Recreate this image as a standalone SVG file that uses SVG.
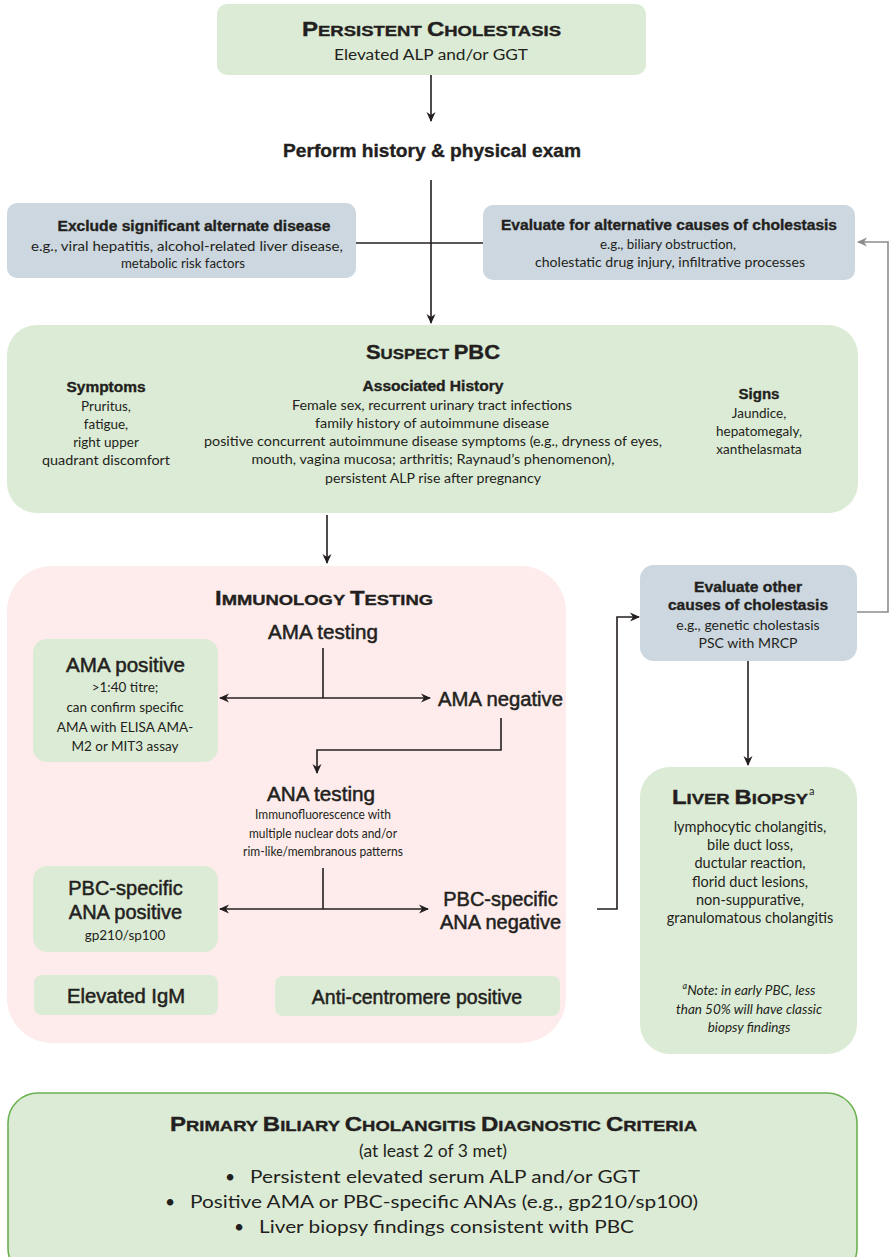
<svg xmlns="http://www.w3.org/2000/svg" width="891" height="1257" viewBox="0 0 891 1257">
<style>
.g{fill:#dcebd5}
.b{fill:#ccd7df}
.h{font-family:"Liberation Sans",Arial,sans-serif;font-weight:bold;fill:#231f20;stroke:#231f20;stroke-width:0.35}
.t{font-family:Lato,"Liberation Sans",sans-serif;fill:#231f20}
.m{font-family:"Liberation Sans",Arial,sans-serif;fill:#231f20;stroke:#231f20;stroke-width:0.5}
.c{fill:none;stroke:#231f20;stroke-width:1.6}
.gr{fill:none;stroke:#8c8c8c;stroke-width:1.6}
</style>
<defs>
<marker id="ah" viewBox="0 0 10 10" refX="9" refY="5" markerWidth="10" markerHeight="10" markerUnits="userSpaceOnUse" orient="auto-start-reverse"><path d="M0,0.5 L10,5 L0,9.5 L3,5 z" fill="#231f20"/></marker>
<marker id="ahg" viewBox="0 0 10 10" refX="9" refY="5" markerWidth="10" markerHeight="10" markerUnits="userSpaceOnUse" orient="auto"><path d="M0,0.5 L10,5 L0,9.5 L3,5 z" fill="#8c8c8c"/></marker>
</defs>

<g id="persistent-cholestasis">
<rect class="g" x="217" y="4" width="429" height="71" rx="10"/>
<text class="h" x="431.5" y="36" text-anchor="middle" textLength="259" lengthAdjust="spacingAndGlyphs"><tspan font-size="19.5">P</tspan><tspan font-size="15">ERSISTENT </tspan><tspan font-size="19.5">C</tspan><tspan font-size="15">HOLESTASIS</tspan></text>
<text class="t" x="431" y="60" font-size="15.5" text-anchor="middle" textLength="194" lengthAdjust="spacingAndGlyphs">Elevated ALP and/or GGT</text>
</g>

<g id="history-exam">
<text class="h" x="432" y="157" font-size="18" text-anchor="middle" textLength="298" lengthAdjust="spacingAndGlyphs">Perform history &amp; physical exam</text>
</g>

<g id="exclude-disease">
<rect class="b" x="7" y="203" width="349" height="75" rx="10"/>
<text class="h" x="194" y="231" font-size="14.5" text-anchor="middle" textLength="273" lengthAdjust="spacingAndGlyphs">Exclude significant alternate disease</text>
<text class="t" x="187" y="251" font-size="13.5" text-anchor="middle" textLength="312" lengthAdjust="spacingAndGlyphs">e.g., viral hepatitis, alcohol-related liver disease,</text>
<text class="t" x="183" y="268" font-size="13.5" text-anchor="middle" textLength="124" lengthAdjust="spacingAndGlyphs">metabolic risk factors</text>
</g>

<g id="evaluate-alternative">
<rect class="b" x="483" y="205" width="372" height="75" rx="10"/>
<text class="h" x="669" y="230" font-size="14.5" text-anchor="middle" textLength="336" lengthAdjust="spacingAndGlyphs">Evaluate for alternative causes of cholestasis</text>
<text class="t" x="668" y="249" font-size="13.5" text-anchor="middle" textLength="136" lengthAdjust="spacingAndGlyphs">e.g., biliary obstruction,</text>
<text class="t" x="670" y="267" font-size="13.5" text-anchor="middle" textLength="270" lengthAdjust="spacingAndGlyphs">cholestatic drug injury, infiltrative processes</text>
</g>

<g id="suspect-pbc">
<rect class="g" x="7" y="325" width="851" height="188" rx="30"/>
<text class="h" x="433" y="359" text-anchor="middle" textLength="134" lengthAdjust="spacingAndGlyphs"><tspan font-size="19.5">S</tspan><tspan font-size="15">USPECT </tspan><tspan font-size="19.5">PBC</tspan></text>
<text class="h" x="106" y="392" font-size="14.5" text-anchor="middle" textLength="79" lengthAdjust="spacingAndGlyphs">Symptoms</text>
<g class="t" font-size="13.5" text-anchor="middle">
<text x="106" y="411">Pruritus,</text>
<text x="106" y="429">fatigue,</text>
<text x="106" y="447">right upper</text>
<text x="106" y="465" textLength="128" lengthAdjust="spacingAndGlyphs">quadrant discomfort</text>
</g>
<text class="h" x="433" y="391" font-size="14.5" text-anchor="middle" textLength="141" lengthAdjust="spacingAndGlyphs">Associated History</text>
<g class="t" font-size="13.5" text-anchor="middle">
<text x="432" y="410" textLength="280" lengthAdjust="spacingAndGlyphs">Female sex, recurrent urinary tract infections</text>
<text x="432" y="428" textLength="234" lengthAdjust="spacingAndGlyphs">family history of autoimmune disease</text>
<text x="433" y="446" textLength="458" lengthAdjust="spacingAndGlyphs">positive concurrent autoimmune disease symptoms (e.g., dryness of eyes,</text>
<text x="433" y="464" textLength="363" lengthAdjust="spacingAndGlyphs">mouth, vagina mucosa; arthritis; Raynaud’s phenomenon),</text>
<text x="433" y="483" textLength="216" lengthAdjust="spacingAndGlyphs">persistent ALP rise after pregnancy</text>
</g>
<text class="h" x="759" y="399" font-size="14.5" text-anchor="middle" textLength="41" lengthAdjust="spacingAndGlyphs">Signs</text>
<g class="t" font-size="13.5" text-anchor="middle">
<text x="759" y="418">Jaundice,</text>
<text x="759" y="436">hepatomegaly,</text>
<text x="759" y="454">xanthelasmata</text>
</g>
</g>

<g id="immunology-testing">
<rect x="7" y="566" width="559" height="477" rx="45" fill="#fdeceb"/>
<text class="h" x="324" y="605" text-anchor="middle" textLength="218" lengthAdjust="spacingAndGlyphs"><tspan font-size="19.5">I</tspan><tspan font-size="15">MMUNOLOGY </tspan><tspan font-size="19.5">T</tspan><tspan font-size="15">ESTING</tspan></text>
</g>

<g id="ama-testing">
<text class="m" x="323" y="639" font-size="20" text-anchor="middle" textLength="110" lengthAdjust="spacingAndGlyphs">AMA testing</text>
</g>

<g id="ama-positive">
<rect class="g" x="33" y="639" width="185" height="123" rx="14"/>
<text class="m" x="125.5" y="672" font-size="20" text-anchor="middle" textLength="119" lengthAdjust="spacingAndGlyphs">AMA positive</text>
<g class="t" font-size="13.5" text-anchor="middle">
<text x="125" y="692">&gt;1:40 titre;</text>
<text x="125" y="712">can confirm specific</text>
<text x="125" y="732">AMA with ELISA AMA-</text>
<text x="125" y="751">M2 or MIT3 assay</text>
</g>
</g>

<g id="ama-negative">
<text class="m" x="500.5" y="706" font-size="20" text-anchor="middle" textLength="125" lengthAdjust="spacingAndGlyphs">AMA negative</text>
</g>

<g id="ana-testing">
<text class="m" x="321" y="801" font-size="20" text-anchor="middle" textLength="108" lengthAdjust="spacingAndGlyphs">ANA testing</text>
<g class="t" font-size="13.5" text-anchor="middle" fill="#333">
<text x="323" y="819" textLength="136" lengthAdjust="spacingAndGlyphs">Immunofluorescence with</text>
<text x="323" y="838" textLength="148" lengthAdjust="spacingAndGlyphs">multiple nuclear dots and/or</text>
<text x="323" y="856" textLength="160" lengthAdjust="spacingAndGlyphs">rim-like/membranous patterns</text>
</g>
</g>

<g id="ana-positive">
<rect class="g" x="33" y="866" width="185" height="86" rx="14"/>
<text class="m" x="125.5" y="895" font-size="20" text-anchor="middle">PBC-specific</text>
<text class="m" x="125.5" y="919" font-size="20" text-anchor="middle">ANA positive</text>
<text class="t" x="125" y="940" font-size="13.5" text-anchor="middle">gp210/sp100</text>
</g>

<g id="ana-negative">
<text class="m" x="500.5" y="906" font-size="20" text-anchor="middle">PBC-specific</text>
<text class="m" x="500.5" y="929" font-size="20" text-anchor="middle">ANA negative</text>
</g>

<g id="elevated-igm">
<rect class="g" x="34" y="975" width="184" height="40" rx="8"/>
<text class="m" x="126" y="1003" font-size="19.5" text-anchor="middle" textLength="118" lengthAdjust="spacingAndGlyphs">Elevated IgM</text>
</g>

<g id="anti-centromere">
<rect class="g" x="275" y="976" width="285" height="40" rx="8"/>
<text class="m" x="417" y="1004" font-size="19.5" text-anchor="middle">Anti-centromere positive</text>
</g>

<g id="evaluate-other">
<rect class="b" x="640" y="565" width="217" height="96" rx="14"/>
<text class="h" x="748" y="592" font-size="14.5" text-anchor="middle" textLength="108" lengthAdjust="spacingAndGlyphs">Evaluate other</text>
<text class="h" x="748" y="610" font-size="14.5" text-anchor="middle" textLength="160" lengthAdjust="spacingAndGlyphs">causes of cholestasis</text>
<text class="t" x="748" y="630" font-size="14" text-anchor="middle">e.g., genetic cholestasis</text>
<text class="t" x="748" y="648" font-size="14" text-anchor="middle">PSC with MRCP</text>
</g>

<g id="liver-biopsy">
<rect class="g" x="640" y="767" width="217" height="287" rx="30"/>
<text class="h" x="740" y="804" text-anchor="middle" textLength="136" lengthAdjust="spacingAndGlyphs"><tspan font-size="19.5">L</tspan><tspan font-size="15">IVER </tspan><tspan font-size="19.5">B</tspan><tspan font-size="15">IOPSY</tspan></text>
<text class="t" x="809" y="795" font-size="11">a</text>
<g class="t" font-size="14.5" text-anchor="middle">
<text x="750" y="832">lymphocytic cholangitis,</text>
<text x="750" y="850">bile duct loss,</text>
<text x="750" y="868">ductular reaction,</text>
<text x="750" y="887">florid duct lesions,</text>
<text x="750" y="905">non-suppurative,</text>
<text x="750" y="923">granulomatous cholangitis</text>
</g>
<g class="t" font-size="13.5" font-style="italic" text-anchor="middle">
<text x="749" y="995"><tspan font-size="9" dy="-6">a</tspan><tspan dy="6">Note: in early PBC, less</tspan></text>
<text x="749" y="1014">than 50% will have classic</text>
<text x="749" y="1032">biopsy findings</text>
</g>
</g>

<g id="diagnostic-criteria">
<rect x="8" y="1093" width="849" height="185" rx="30" fill="#dcebd5" stroke="#6ab150" stroke-width="1.6"/>
<text class="h" x="433.5" y="1131" text-anchor="middle" textLength="527" lengthAdjust="spacingAndGlyphs"><tspan font-size="19.5">P</tspan><tspan font-size="15">RIMARY </tspan><tspan font-size="19.5">B</tspan><tspan font-size="15">ILIARY </tspan><tspan font-size="19.5">C</tspan><tspan font-size="15">HOLANGITIS </tspan><tspan font-size="19.5">D</tspan><tspan font-size="15">IAGNOSTIC </tspan><tspan font-size="19.5">C</tspan><tspan font-size="15">RITERIA</tspan></text>
<g class="t" font-size="17.5">
<text x="433" y="1157" text-anchor="middle">(at least 2 of 3 met)</text>
<text x="225" y="1183">•</text>
<text x="250" y="1183" textLength="390" lengthAdjust="spacingAndGlyphs">Persistent elevated serum ALP and/or GGT</text>
<text x="165" y="1208">•</text>
<text x="190" y="1208" textLength="508" lengthAdjust="spacingAndGlyphs">Positive AMA or PBC-specific ANAs (e.g., gp210/sp100)</text>
<text x="234" y="1233">•</text>
<text x="259" y="1233" textLength="375" lengthAdjust="spacingAndGlyphs">Liver biopsy findings consistent with PBC</text>
</g>
</g>

<g id="connectors">
<line class="c" x1="431" y1="75" x2="431" y2="121" marker-end="url(#ah)"/>
<line class="c" x1="431" y1="180" x2="431" y2="323" marker-end="url(#ah)"/>
<line class="c" x1="356" y1="243" x2="483" y2="243" stroke-width="1.2"/>
<polyline class="gr" points="857,612 888,612 888,242 858,242" marker-end="url(#ahg)"/>
<line class="c" x1="327" y1="515" x2="327" y2="563" marker-end="url(#ah)"/>
<line class="c" x1="323" y1="648" x2="323" y2="698" stroke-width="1.2"/>
<line class="c" x1="220" y1="698" x2="430" y2="698" marker-start="url(#ah)" marker-end="url(#ah)"/>
<polyline class="c" points="501,718 501,750 317,750 317,773" marker-end="url(#ah)"/>
<line class="c" x1="323" y1="868" x2="323" y2="909" stroke-width="1.2"/>
<line class="c" x1="220" y1="909" x2="428" y2="909" marker-start="url(#ah)" marker-end="url(#ah)"/>
<polyline class="c" points="597,909 617,909 617,617 639,617" marker-end="url(#ah)"/>
<line class="c" x1="748" y1="661" x2="748" y2="765" marker-end="url(#ah)"/>
</g>
</svg>
